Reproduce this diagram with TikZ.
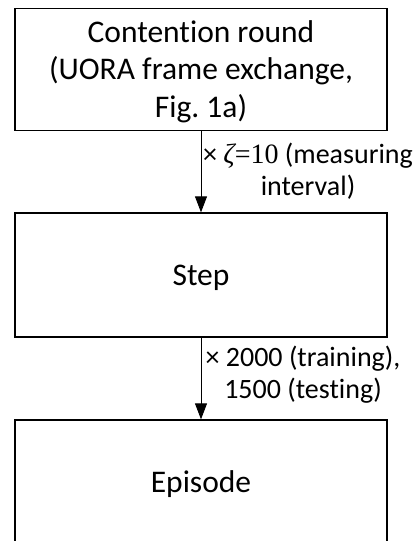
\documentclass[tikz,border=0pt]{standalone}
\usepackage{fontspec}
\setmainfont{Carlito}[Ligatures=NoCommon]
\newfontfamily\zetafont{Liberation Serif}
\usetikzlibrary{arrows.meta}
\frenchspacing
\begin{document}
\begin{tikzpicture}[x=1pt,y=-1pt,
  stagebox/.style={draw=black, line width=1.3pt, minimum width=372pt,
    inner sep=0pt, align=center, font=\fontsize{31.5}{37.5}\selectfont},
  countlabel/.style={inner sep=0pt, align=center, anchor=base,
    font=\fontsize{28}{31.5}\selectfont},
  nestarrow/.style={line width=0.9pt, -{Triangle[width=12pt,length=16pt]}}]
  \useasboundingbox (0,0) rectangle (416,541);
  % three nested time scales
  \node[stagebox, minimum height=122pt] (round) at (201,69.5)
    {\strut Contention round\\(UORA frame exchange,\\Fig. 1a)};
  \node[stagebox, minimum height=124pt, text depth=0pt] (step) at (201,275) {Step};
  \node[stagebox, minimum height=124pt, text depth=0pt] (episode) at (201,482) {Episode};
  % repetitions between the levels
  \draw[nestarrow] (round.south) -- (step.north);
  \draw[nestarrow] (step.south) -- (episode.north);
  \node[countlabel] (zetalabel) at (308,195)
    {× {\zetafont\itshape ζ}{\zetafont =10} (measuring\\interval)};
  \node[countlabel] (episodelabel) at (303,398)
    {× 2000 (training),\\1500 (testing)};
\end{tikzpicture}
\end{document}
